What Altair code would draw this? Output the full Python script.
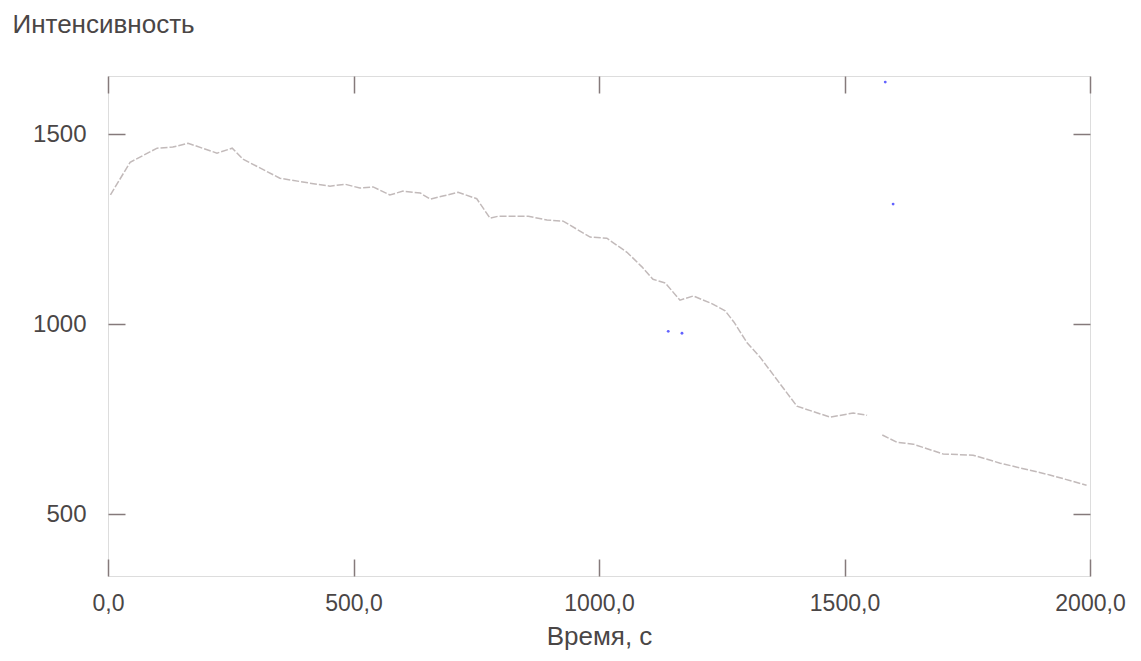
import altair as alt
import pandas as pd

# Main series: time (s) and intensity
time_s = [5, 45, 100, 132, 163, 222, 253, 275, 350, 411, 452, 483, 513, 540, 574,
          601, 636, 656, 682, 713, 751, 778, 795, 856, 894, 927, 982, 1016, 1057,
          1088, 1110, 1135, 1165, 1192, 1228, 1257, 1275, 1302, 1328, 1403, 1471,
          1518, 1546,
          1577, 1607, 1640, 1701, 1762, 1817, 1918, 1993]
intensity = [1340, 1426, 1463, 1466, 1476, 1450, 1463, 1434, 1384, 1371, 1363, 1368,
             1358, 1361, 1340, 1350, 1345, 1329, 1337, 1347, 1330, 1279, 1284, 1284,
             1274, 1271, 1229, 1226, 1189, 1150, 1118, 1108, 1063, 1074, 1055, 1035,
             1005, 950, 913, 784, 755, 766, 760,
             708, 689, 684, 658, 655, 634, 603, 576]
segment = [1] * 43 + [2] * 8

# Stray blue points
dot_time = [1141, 1169, 1583, 1599]
dot_value = [981, 976, 1637, 1316]

x_ticks = [0, 500, 1000, 1500, 2000]
y_ticks = [500, 1000, 1500]

line_df = pd.DataFrame({"t": time_s, "v": intensity, "seg": segment})
dot_df = pd.DataFrame({"t": dot_time, "v": dot_value})

FONT = "Liberation Sans"
TXT = "#4a4646"
AX = "#857a7b"

xscale = alt.Scale(domain=[0, 2000], nice=False, zero=False)
yscale = alt.Scale(domain=[337, 1653], nice=False, zero=False)

common_axis = dict(offset=-17, tickSize=17, domain=False, grid=False,
                   tickColor=AX, tickWidth=1.5, labelFlush=False, labelOverlap=False)

line = alt.Chart(line_df).mark_line(
    color="#c2baba", strokeWidth=1.5, strokeDash=[7, 2]
).encode(
    x=alt.X("t:Q", scale=xscale, axis=alt.Axis(
        orient="bottom", values=x_ticks, labelPadding=16, labelFontSize=23,
        labelColor=TXT, labelFont=FONT,
        labelExpr="replace(format(datum.value, '.1f'), '.', ',')",
        title="Время, с", titleFont=FONT, titleFontSize=26, titleColor=TXT,
        titleFontWeight="normal", titleBaseline="middle", titleY=77,
        **common_axis)),
    y=alt.Y("v:Q", scale=yscale, axis=alt.Axis(
        orient="left", values=y_ticks, format="d", labelPadding=22, labelFontSize=24,
        labelColor=TXT, labelFont=FONT,
        title="Интенсивность", titleFont=FONT, titleFontSize=26, titleColor=TXT,
        titleFontWeight="normal", titleAngle=0, titleAlign="left",
        titleBaseline="middle", titleX=-113, titleY=-52,
        **common_axis)),
    detail="seg:N",
)

dots = alt.Chart(dot_df).mark_point(
    filled=True, color="#3b3bff", size=8, opacity=0.8
).encode(
    x=alt.X("t:Q", scale=xscale, axis=alt.Axis(
        orient="top", values=x_ticks, labels=False, title=None, **common_axis)),
    y=alt.Y("v:Q", scale=yscale, axis=alt.Axis(
        orient="right", values=y_ticks, labels=False, title=None, **common_axis)),
)

chart = alt.layer(line, dots).resolve_axis(
    x="independent", y="independent"
).properties(
    width=982, height=500,
    autosize=alt.AutoSizeParams(type="none"),
    padding={"left": 100, "top": 68, "right": 40, "bottom": 76},
).configure_view(
    stroke=AX, strokeWidth=1.5
).configure(background="white")

chart.save("out.html", embed_options={"renderer": "svg", "actions": False})
